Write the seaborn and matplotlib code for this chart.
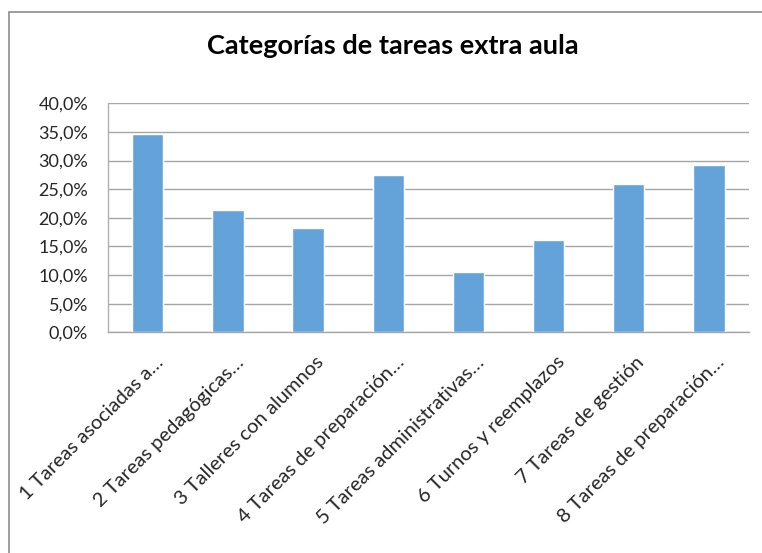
import matplotlib
matplotlib.use("Agg")
import matplotlib.pyplot as plt
import matplotlib.transforms as mtransforms
from matplotlib.patches import Rectangle
from matplotlib.ticker import FuncFormatter
import pandas as pd
import seaborn as sns

categories = [
    "1 Tareas asociadas a…",
    "2 Tareas pedagógicas…",
    "3 Talleres con alumnos",
    "4 Tareas de preparación…",
    "5 Tareas administrativas…",
    "6 Turnos y reemplazos",
    "7 Tareas de gestión",
    "8 Tareas de preparación…",
]
values = [34.6, 21.3, 18.2, 27.5, 10.5, 16.1, 25.9, 29.3]
y_ticks = [0, 5, 10, 15, 20, 25, 30, 35, 40]
title = "Categorías de tareas extra aula"

sns.set_style("white")
plt.rcParams["font.family"] = ["Lato", "DejaVu Sans"]

df = pd.DataFrame({"cat": categories, "val": values})

fig = plt.figure(figsize=(7.62, 5.53), dpi=100)
ax = fig.add_axes([0.1413, 0.399, 0.8417, 0.4142])

sns.barplot(data=df, x="cat", y="val", color="#64A3DA", width=0.39,
            saturation=1, ax=ax, zorder=3)

ax.set_ylim(0, 40)
ax.set_xlim(-0.5, len(categories) - 0.5)
ax.set_yticks(y_ticks)
ax.yaxis.set_major_formatter(FuncFormatter(lambda v, p: f"{v:.1f}%".replace(".", ",")))
ax.grid(axis="y", color="#a6a6a6", linewidth=1, zorder=0)
ax.set_xlabel("")
ax.set_ylabel("")

for s in ["top", "right"]:
    ax.spines[s].set_visible(False)
ax.spines["left"].set_color("#b0b0b0")
ax.spines["bottom"].set_color("#a6a6a6")
ax.spines["left"].set_linewidth(1)
ax.spines["bottom"].set_linewidth(1)

ax.tick_params(axis="y", length=0, pad=14, labelsize=13, labelcolor="#262626")
ax.tick_params(axis="x", length=0, pad=0, labelsize=14.5, labelcolor="#262626")

offset = mtransforms.ScaledTranslation(7 / 100, -21 / 100, fig.dpi_scale_trans)
for lbl in ax.get_xticklabels():
    lbl.set_rotation(45)
    lbl.set_rotation_mode("anchor")
    lbl.set_ha("right")
    lbl.set_va("top")
    lbl.set_transform(lbl.get_transform() + offset)

fig.text(0.516, 1 - 46 / 553, title, ha="center", va="center",
         fontsize=19.5, fontweight="bold", color="black")

# chart frame (only top and left edges show in the reference)
fig.patches.append(Rectangle((8.5 / 762, -0.1), 1.2, 1 - 12 / 553 + 0.1,
                             transform=fig.transFigure, fill=False,
                             edgecolor="#8c8c8c", linewidth=1.2))

fig.savefig("out.png", dpi=100)
